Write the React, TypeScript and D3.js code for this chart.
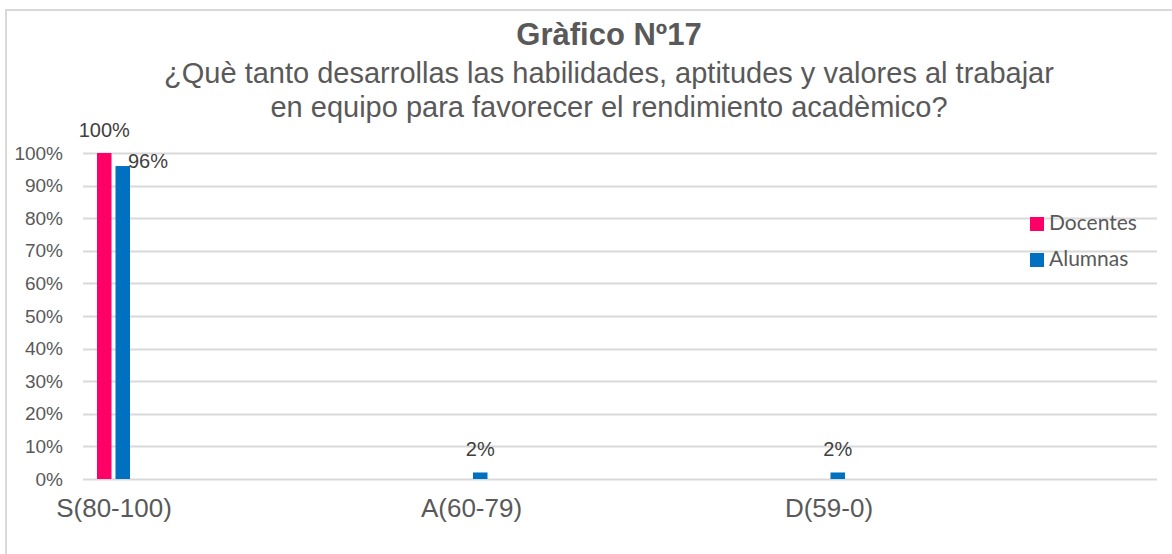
import React, { useEffect, useRef } from 'react';
import * as d3 from 'd3';

const categories = ['S(80-100)', 'A(60-79)', 'D(59-0)'];
const seriesNames = ['Docentes', 'Alumnas'];
const docentes = [1.0, 0, 0];
const alumnas = [0.96, 0.02, 0.02];
const yTicks = [0, 0.1, 0.2, 0.3, 0.4, 0.5, 0.6, 0.7, 0.8, 0.9, 1.0];
const colors = ['#FF0066', '#0070C0'];

const title = 'Gràfico Nº17';
const subtitle = [
  '¿Què tanto desarrollas las habilidades, aptitudes y valores al trabajar',
  'en equipo para favorecer el rendimiento acadèmico?',
];

const W = 1172;
const H = 554;
const textColor = '#595959';
const font = '"Liberation Sans", Arial, sans-serif';

export default function App() {
  const svgRef = useRef<SVGSVGElement>(null);

  useEffect(() => {
    if (!svgRef.current) return;
    const svg = d3.select(svgRef.current);
    svg.selectAll('*').remove();

    // chart frame (right and bottom edges fall outside the picture)
    svg.append('rect')
      .attr('x', 6).attr('y', 10)
      .attr('width', W + 20).attr('height', H + 20)
      .attr('fill', '#fff')
      .attr('stroke', '#d9d9d9')
      .attr('stroke-width', 2);

    // Titles
    svg.append('text')
      .attr('x', 609).attr('y', 45)
      .attr('text-anchor', 'middle')
      .attr('font-family', font)
      .attr('font-weight', 'bold')
      .attr('font-size', '31px')
      .attr('fill', textColor)
      .text(title);

    subtitle.forEach((line, i) => {
      svg.append('text')
        .attr('x', 609).attr('y', 83 + i * 34)
        .attr('text-anchor', 'middle')
        .attr('font-family', font)
        .attr('font-size', '29px')
        .attr('fill', textColor)
        .text(line);
    });

    // Scales
    const plotLeft = 83;
    const plotRight = 1157;
    const y = d3.scaleLinear().domain([0, 1]).range([479, 153]);
    const x = d3.scalePoint<string>().domain(categories).range([113, 828]);
    const xs = d3.scaleBand<string>()
      .domain(seriesNames)
      .range([-16, 17])
      .paddingInner(0.216);

    // Grid
    svg.append('g')
      .selectAll('line')
      .data(yTicks)
      .join('line')
      .attr('x1', plotLeft).attr('x2', plotRight)
      .attr('y1', d => Math.round(y(d)) + 0.5)
      .attr('y2', d => Math.round(y(d)) + 0.5)
      .attr('stroke', '#d9d9d9')
      .attr('stroke-width', 2);

    // Y axis labels
    svg.append('g')
      .selectAll('text')
      .data(yTicks)
      .join('text')
      .attr('x', 63)
      .attr('y', d => y(d))
      .attr('dy', '0.35em')
      .attr('text-anchor', 'end')
      .attr('font-family', font)
      .attr('font-size', '19px')
      .attr('fill', textColor)
      .text(d => d3.format('.0%')(d));

    // Category labels
    svg.append('g')
      .selectAll('text')
      .data(categories)
      .join('text')
      .attr('x', d => (x(d) ?? 0) + 1)
      .attr('y', 517)
      .attr('text-anchor', 'middle')
      .attr('font-family', font)
      .attr('font-size', '26px')
      .attr('fill', textColor)
      .text(d => d);

    // Bars
    const values = [docentes, alumnas];
    seriesNames.forEach((s, si) => {
      const data = categories
        .map((c, ci) => ({ c, ci, v: values[si][ci] }))
        .filter(d => d.v > 0);

      svg.append('g')
        .selectAll('rect')
        .data(data)
        .join('rect')
        .attr('x', d => (x(d.c) ?? 0) + (xs(s) ?? 0))
        .attr('y', d => y(d.v))
        .attr('width', xs.bandwidth())
        .attr('height', d => y(0) - y(d.v))
        .attr('fill', colors[si]);

      // Data labels (Alumnas label in first group pushed beside bar to avoid overlap)
      const beside = (ci: number) => si === 1 && docentes[ci] > 0;
      svg.append('g')
        .selectAll('text')
        .data(data)
        .join('text')
        .attr('x', d => {
          const bx = (x(d.c) ?? 0) + (xs(s) ?? 0);
          return beside(d.ci) ? bx + xs.bandwidth() - 2 : bx + xs.bandwidth() / 2;
        })
        .attr('y', d => beside(d.ci) ? y(d.v) + 2 : y(d.v) - 16)
        .attr('text-anchor', d => beside(d.ci) ? 'start' : 'middle')
        .attr('font-family', font)
        .attr('font-size', '20px')
        .attr('fill', '#404040')
        .text(d => d3.format('.0%')(d.v));
    });

    // Legend
    const legend = svg.append('g').attr('transform', 'translate(1030, 217)');
    seriesNames.forEach((s, i) => {
      const row = legend.append('g').attr('transform', `translate(0, ${i * 36})`);
      row.append('rect')
        .attr('width', 14).attr('height', 14)
        .attr('fill', colors[i]);
      row.append('text')
        .attr('x', 19).attr('y', 13)
        .attr('font-family', 'Lato, "Open Sans", sans-serif')
        .attr('font-size', '21px')
        .attr('fill', textColor)
        .text(s);
    });
  }, []);

  return (
    <svg
      ref={svgRef}
      width={W}
      height={H}
      style={{ position: 'absolute', left: 0, top: 0, background: '#fff' }}
    />
  );
}
